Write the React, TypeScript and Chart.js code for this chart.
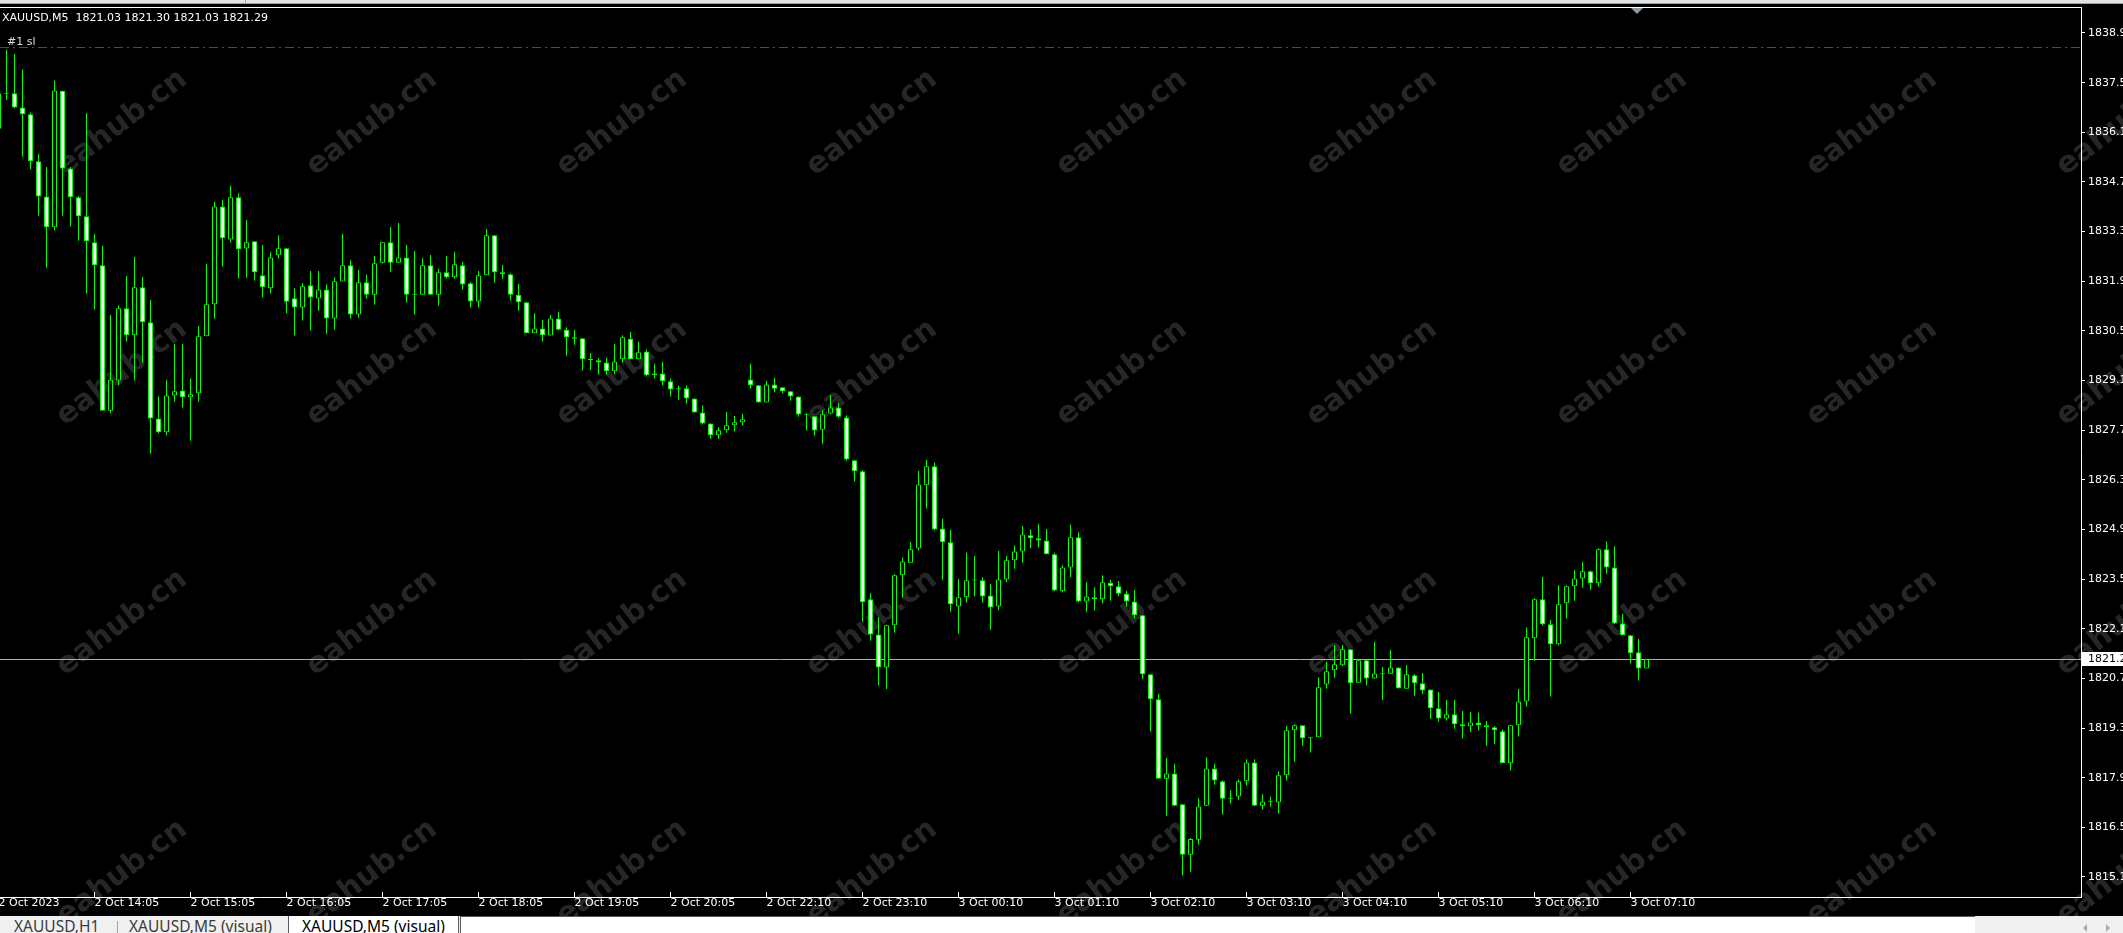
import React, { useEffect, useRef } from 'react';
import { Chart, registerables } from 'chart.js';

Chart.register(...registerables);

const W = 2123;
const H = 933;

const symbol = 'XAUUSD,M5';

const opens = [
  1836.25, 1837.25, 1837.25, 1836.85, 1836.66, 1835.33, 1834.34, 1833.47, 1837.32, 1835.13,
  1834.32, 1833.78, 1833.05, 1832.40, 1828.30, 1829.15, 1831.19, 1830.43, 1831.78, 1830.79,
  1828.08, 1827.69, 1828.73, 1828.87, 1828.68, 1828.79, 1830.40, 1831.30, 1834.06, 1833.13,
  1834.32, 1832.87, 1833.08, 1832.12, 1831.75, 1832.68, 1832.88, 1831.47, 1831.21, 1831.84,
  1831.46, 1831.72, 1830.90, 1831.94, 1832.40, 1831.01, 1831.92, 1831.57, 1832.47, 1833.05,
  1832.47, 1832.62, 1831.57, 1831.57, 1832.40, 1831.57, 1832.20, 1832.06, 1832.40, 1831.89,
  1831.38, 1832.12, 1833.25, 1832.20, 1832.15, 1831.57, 1831.36, 1830.48, 1830.62, 1830.42,
  1830.90, 1830.58, 1830.37, 1830.34, 1829.75, 1829.72, 1829.66, 1829.41, 1829.75, 1830.33,
  1829.75, 1829.97, 1829.30, 1829.35, 1829.13, 1828.90, 1828.93, 1828.64, 1828.25, 1827.94,
  1827.61, 1827.75, 1827.89, 1827.97, 1829.18, 1829.02, 1828.53, 1829.04, 1828.96, 1828.85,
  1828.70, 1828.19, 1828.14, 1827.76, 1828.22, 1828.39, 1828.11, 1826.90, 1826.59, 1822.98,
  1821.99, 1821.06, 1822.25, 1823.66, 1824.01, 1824.41, 1826.20, 1826.73, 1824.98, 1824.59,
  1822.78, 1823.04, 1823.52, 1823.52, 1823.09, 1822.78, 1823.54, 1824.08, 1824.33, 1824.79,
  1824.70, 1824.64, 1824.25, 1823.21, 1823.88, 1824.73, 1822.92, 1823.04, 1822.98, 1823.45,
  1823.35, 1823.14, 1822.92, 1822.53, 1820.87, 1820.16, 1817.92, 1818.07, 1817.20, 1815.78,
  1816.20, 1817.16, 1818.21, 1817.85, 1817.36, 1817.42, 1817.85, 1818.38, 1817.16, 1817.28,
  1817.25, 1818.02, 1819.29, 1819.43, 1819.07, 1819.09, 1820.58, 1820.98, 1821.12, 1821.57,
  1820.63, 1821.26, 1820.75, 1820.87, 1820.88, 1821.06, 1820.46, 1820.84, 1820.61, 1820.44,
  1819.91, 1819.62, 1819.74, 1819.46, 1819.40, 1819.51, 1819.43, 1819.37, 1819.26, 1818.36,
  1819.43, 1820.10, 1821.88, 1822.98, 1822.28, 1821.71, 1822.87, 1823.35, 1823.57, 1823.77,
  1823.43, 1824.39, 1823.88, 1822.30, 1821.97, 1821.49, 1821.03,
];

const highs = [
  1837.30, 1838.47, 1838.36, 1837.93, 1836.71, 1835.54, 1835.17, 1837.60, 1837.32, 1835.17,
  1834.35, 1836.69, 1833.28, 1832.94, 1831.00, 1831.27, 1832.10, 1832.63, 1832.07, 1831.42,
  1828.70, 1829.17, 1830.18, 1830.18, 1829.21, 1830.69, 1832.44, 1834.19, 1834.24, 1834.64,
  1834.43, 1833.68, 1833.08, 1832.97, 1832.77, 1833.25, 1832.88, 1831.75, 1831.89, 1832.24,
  1832.24, 1831.86, 1832.06, 1833.28, 1832.54, 1832.27, 1832.13, 1832.66, 1833.05, 1833.48,
  1833.59, 1832.97, 1832.80, 1832.60, 1832.69, 1832.30, 1832.66, 1832.78, 1832.49, 1831.93,
  1832.24, 1833.42, 1833.25, 1832.41, 1832.17, 1831.87, 1831.36, 1831.05, 1830.86, 1831.00,
  1831.08, 1830.65, 1830.58, 1830.34, 1829.92, 1829.78, 1829.79, 1830.18, 1830.43, 1830.52,
  1830.24, 1830.03, 1829.62, 1829.67, 1829.21, 1829.00, 1829.02, 1828.64, 1828.45, 1827.94,
  1827.83, 1828.26, 1828.15, 1828.21, 1829.62, 1829.02, 1829.14, 1829.22, 1828.96, 1828.85,
  1828.70, 1828.23, 1828.15, 1828.32, 1828.74, 1828.51, 1828.17, 1826.90, 1826.63, 1823.15,
  1822.48, 1822.26, 1823.69, 1824.16, 1824.60, 1826.60, 1826.91, 1826.84, 1825.25, 1824.94,
  1823.55, 1824.29, 1824.20, 1823.60, 1823.41, 1824.34, 1824.20, 1824.50, 1825.05, 1824.95,
  1825.10, 1824.96, 1824.29, 1823.94, 1825.08, 1824.87, 1823.46, 1823.32, 1823.66, 1823.53,
  1823.50, 1823.22, 1823.24, 1822.53, 1820.87, 1820.31, 1818.51, 1818.34, 1817.20, 1816.26,
  1817.37, 1818.53, 1818.34, 1817.87, 1817.60, 1817.90, 1818.47, 1818.47, 1817.48, 1817.41,
  1818.13, 1819.41, 1819.46, 1819.43, 1819.09, 1820.78, 1821.22, 1821.69, 1821.69, 1821.57,
  1821.26, 1821.26, 1821.78, 1821.07, 1821.55, 1821.06, 1821.13, 1820.87, 1820.90, 1820.44,
  1820.37, 1820.14, 1820.14, 1819.83, 1819.80, 1819.78, 1819.55, 1819.40, 1819.31, 1819.43,
  1820.45, 1822.19, 1823.01, 1823.61, 1822.40, 1823.38, 1823.37, 1823.81, 1824.03, 1823.79,
  1824.42, 1824.62, 1824.48, 1822.57, 1821.97, 1821.86, 1821.30,
];

const lows = [
  1836.21, 1837.06, 1836.83, 1835.46, 1835.11, 1833.80, 1832.33, 1833.38, 1833.80, 1833.49,
  1833.09, 1831.61, 1831.16, 1828.30, 1828.23, 1829.02, 1830.25, 1829.15, 1829.65, 1827.10,
  1827.66, 1827.61, 1828.55, 1828.39, 1827.45, 1828.55, 1830.40, 1830.90, 1832.36, 1833.04,
  1832.03, 1832.05, 1831.97, 1831.50, 1831.61, 1832.60, 1831.05, 1830.43, 1830.84, 1830.56,
  1831.12, 1830.47, 1830.58, 1831.94, 1830.90, 1830.92, 1831.46, 1831.29, 1832.45, 1832.22,
  1832.47, 1831.35, 1831.01, 1831.57, 1831.57, 1831.26, 1832.02, 1832.02, 1831.72, 1831.21,
  1831.21, 1832.12, 1831.91, 1832.02, 1831.40, 1831.12, 1830.48, 1830.48, 1830.25, 1830.42,
  1830.56, 1829.85, 1830.16, 1829.43, 1829.45, 1829.32, 1829.31, 1829.33, 1829.65, 1829.75,
  1829.75, 1829.26, 1829.20, 1829.02, 1828.70, 1828.61, 1828.50, 1828.25, 1827.91, 1827.51,
  1827.51, 1827.68, 1827.71, 1827.88, 1828.92, 1828.53, 1828.53, 1828.81, 1828.79, 1828.58,
  1828.13, 1827.74, 1827.60, 1827.37, 1828.20, 1828.10, 1826.89, 1826.30, 1822.35, 1821.81,
  1820.56, 1820.45, 1822.04, 1823.03, 1824.01, 1824.36, 1825.54, 1824.92, 1823.53, 1822.63,
  1822.01, 1822.89, 1823.07, 1822.89, 1822.12, 1822.67, 1823.47, 1823.84, 1824.01, 1824.43,
  1824.44, 1824.25, 1823.21, 1823.17, 1823.61, 1822.89, 1822.63, 1822.66, 1822.87, 1822.94,
  1823.07, 1822.77, 1822.44, 1820.74, 1819.25, 1817.92, 1816.88, 1817.16, 1815.19, 1815.30,
  1816.06, 1817.16, 1817.75, 1816.91, 1817.22, 1817.33, 1817.73, 1817.16, 1817.05, 1817.13,
  1816.94, 1817.87, 1818.40, 1818.85, 1818.66, 1819.09, 1820.46, 1820.77, 1821.09, 1819.76,
  1820.63, 1820.55, 1820.74, 1820.14, 1820.88, 1820.46, 1820.46, 1820.26, 1820.32, 1819.61,
  1819.53, 1819.56, 1819.33, 1819.05, 1819.24, 1819.28, 1818.85, 1818.89, 1818.36, 1818.15,
  1819.11, 1819.95, 1821.25, 1822.24, 1820.24, 1821.68, 1822.44, 1822.94, 1823.31, 1823.25,
  1823.34, 1823.70, 1822.28, 1821.97, 1821.17, 1820.69, 1821.03,
];

const closes = [
  1837.25, 1837.24, 1836.85, 1836.66, 1835.33, 1834.34, 1833.47, 1837.33, 1835.13, 1834.32,
  1833.78, 1833.08, 1832.40, 1828.30, 1829.17, 1831.19, 1830.43, 1831.78, 1830.79, 1828.08,
  1827.69, 1828.73, 1828.85, 1828.68, 1828.76, 1830.40, 1831.30, 1834.06, 1833.16, 1834.32,
  1832.85, 1833.05, 1832.20, 1831.78, 1832.62, 1832.88, 1831.37, 1831.21, 1831.81, 1831.49,
  1831.72, 1830.90, 1831.95, 1832.40, 1831.01, 1831.92, 1831.57, 1832.46, 1833.05, 1832.47,
  1832.62, 1831.57, 1831.57, 1832.40, 1831.57, 1832.20, 1832.06, 1832.43, 1831.86, 1831.38,
  1832.12, 1833.25, 1832.20, 1832.15, 1831.57, 1831.36, 1830.48, 1830.62, 1830.43, 1830.90,
  1830.58, 1830.37, 1830.33, 1829.75, 1829.73, 1829.66, 1829.41, 1829.69, 1830.37, 1829.75,
  1829.95, 1829.30, 1829.35, 1829.13, 1828.90, 1828.93, 1828.64, 1828.25, 1827.94, 1827.61,
  1827.75, 1827.89, 1827.97, 1828.06, 1829.02, 1828.53, 1829.04, 1828.92, 1828.85, 1828.70,
  1828.19, 1828.17, 1827.74, 1828.20, 1828.39, 1828.13, 1826.92, 1826.59, 1822.90, 1821.99,
  1821.06, 1822.25, 1823.66, 1824.05, 1824.39, 1826.22, 1826.73, 1824.95, 1824.59, 1822.84,
  1823.04, 1823.52, 1823.51, 1823.06, 1822.75, 1823.54, 1824.08, 1824.33, 1824.81, 1824.70,
  1824.64, 1824.25, 1823.23, 1823.88, 1824.73, 1822.92, 1823.06, 1822.98, 1823.46, 1823.35,
  1823.14, 1822.92, 1822.53, 1820.87, 1820.16, 1817.92, 1818.07, 1817.16, 1815.78, 1816.22,
  1817.14, 1818.21, 1817.87, 1817.36, 1817.36, 1817.85, 1818.38, 1817.16, 1817.28, 1817.27,
  1818.02, 1819.29, 1819.43, 1819.06, 1819.06, 1820.50, 1820.95, 1821.15, 1821.57, 1820.61,
  1821.26, 1820.75, 1820.89, 1820.88, 1821.06, 1820.47, 1820.87, 1820.61, 1820.41, 1819.91,
  1819.62, 1819.74, 1819.46, 1819.40, 1819.51, 1819.43, 1819.37, 1819.29, 1818.36, 1819.43,
  1820.10, 1821.91, 1822.98, 1822.28, 1821.71, 1822.84, 1823.35, 1823.57, 1823.77, 1823.43,
  1824.39, 1823.88, 1822.30, 1821.97, 1821.46, 1821.03, 1821.29,
];

const timeTickIndex = [0, 12, 24, 36, 48, 60, 72, 84, 96, 108, 120, 132, 144, 156, 168, 180, 192, 204];
const timeTickLabels = [
  '2 Oct 2023', '2 Oct 14:05', '2 Oct 15:05', '2 Oct 16:05', '2 Oct 17:05', '2 Oct 18:05',
  '2 Oct 19:05', '2 Oct 20:05', '2 Oct 22:10', '2 Oct 23:10', '3 Oct 00:10', '3 Oct 01:10',
  '3 Oct 02:10', '3 Oct 03:10', '3 Oct 04:10', '3 Oct 05:10', '3 Oct 06:10', '3 Oct 07:10',
];

const priceTicks = [
  1838.95, 1837.55, 1836.15, 1834.75, 1833.35, 1831.95, 1830.55, 1829.15, 1827.75,
  1826.35, 1824.95, 1823.55, 1822.15, 1820.75, 1819.35, 1817.95, 1816.55, 1815.15,
];

const stopLossPrice = 1838.55;
const stopLossLabel = '#1 sl';
const tabLabels = ['XAUUSD,H1', 'XAUUSD,M5 (visual)', 'XAUUSD,M5 (visual)'];
const watermarkText = 'eahub.cn';

const FONT = '"DejaVu Sans", sans-serif';

export default function App() {
  const ref = useRef<HTMLCanvasElement | null>(null);

  useEffect(() => {
    const canvas = ref.current;
    if (!canvas) return;
    const last = closes.length - 1;

    const wickData = lows.map((l, i) => ({ x: i, y: [l, highs[i]] }));
    const bodyData = opens.map((o, i) => ({ x: i, y: [o, closes[i]] }));
    const bodyFill = opens.map((o, i) => (closes[i] >= o ? '#000000' : '#ffffff'));

    const chromePlugin = {
      id: 'mt4chrome',
      beforeDraw(chart: any) {
        const ctx = chart.ctx as CanvasRenderingContext2D;
        ctx.save();
        ctx.fillStyle = '#000000';
        ctx.fillRect(0, 0, W, H);
        ctx.fillStyle = '#e4e4e4';
        ctx.fillRect(0, 0, W, 3);
        ctx.fillStyle = '#a0a0a0';
        ctx.fillRect(0, 3, W, 1);
        ctx.fillRect(245, 0, 1, 3);
        // watermark
        ctx.font = 'bold 30px "DejaVu Sans"';
        ctx.fillStyle = '#262626';
        ctx.textAlign = 'center';
        ctx.textBaseline = 'middle';
        for (let r = 0; r < 4; r++) {
          for (let c = 0; c < 9; c++) {
            ctx.save();
            ctx.translate(122 + 250 * c, 123 + 250 * r);
            ctx.rotate(-0.65);
            ctx.fillText(watermarkText, 0, 0);
            ctx.restore();
          }
        }
        ctx.restore();
      },
      beforeDatasetsDraw(chart: any) {
        const ctx = chart.ctx as CanvasRenderingContext2D;
        const area = chart.chartArea;
        const xs = chart.scales.x;
        const ys = chart.scales.y;
        ctx.save();
        // frame top
        ctx.fillStyle = '#ffffff';
        ctx.fillRect(0, Math.round(area.top), Math.round(area.right) + 1, 1);
        // bid line
        const yb = Math.round(ys.getPixelForValue(closes[last])) + 0.5;
        ctx.strokeStyle = '#aeb0b4';
        ctx.lineWidth = 1;
        ctx.beginPath();
        ctx.moveTo(area.left, yb);
        ctx.lineTo(area.right, yb);
        ctx.stroke();
        // stop loss line
        const ysl = Math.round(ys.getPixelForValue(stopLossPrice)) + 0.5;
        ctx.strokeStyle = '#ff0000';
        ctx.setLineDash([9, 4, 2, 4]);
        ctx.beginPath();
        ctx.moveTo(area.left, ysl);
        ctx.lineTo(area.right, ysl);
        ctx.stroke();
        ctx.setLineDash([]);
        // texts
        ctx.font = '11px ' + FONT;
        ctx.textAlign = 'left';
        ctx.textBaseline = 'alphabetic';
        ctx.fillStyle = '#dcdcdc';
        ctx.fillText(stopLossLabel, 7, ysl - 3);
        ctx.fillStyle = '#ffffff';
        const hdr = `${symbol}  ${opens[last].toFixed(2)} ${highs[last].toFixed(2)} ${lows[last].toFixed(2)} ${closes[last].toFixed(2)}`;
        ctx.fillText(hdr, 2, 21);
        // time tick marks inside plot
        ctx.fillStyle = '#ffffff';
        timeTickIndex.forEach((v) => {
          const px = Math.floor(xs.getPixelForValue(v));
          ctx.fillRect(px, area.bottom - 5, 1, 5);
        });
        ctx.restore();
      },
      afterDraw(chart: any) {
        const ctx = chart.ctx as CanvasRenderingContext2D;
        const area = chart.chartArea;
        const ys = chart.scales.y;
        ctx.save();
        const yb = Math.round(ys.getPixelForValue(closes[last]));
        ctx.fillStyle = '#ffffff';
        ctx.fillRect(Math.round(area.right) + 1, yb - 7, W - area.right, 14);
        ctx.fillStyle = '#000000';
        ctx.font = '11px ' + FONT;
        ctx.textAlign = 'left';
        ctx.textBaseline = 'middle';
        ctx.fillText(closes[last].toFixed(2), area.right + 7, yb + 0.5);
        // chart shift triangle
        ctx.fillStyle = '#8c98a4';
        ctx.beginPath();
        ctx.moveTo(1631, 8);
        ctx.lineTo(1643, 8);
        ctx.lineTo(1637, 14);
        ctx.closePath();
        ctx.fill();
        ctx.restore();
      },
    };

    const chart = new Chart(canvas, {
      type: 'bar',
      data: {
        datasets: [
          {
            label: 'body',
            data: bodyData as any,
            backgroundColor: bodyFill,
            borderColor: '#00ff00',
            borderWidth: 1,
            borderSkipped: false,
            barThickness: 5,
            minBarLength: 1,
            grouped: false,
            inflateAmount: 0,
            order: 0,
          } as any,
          {
            label: 'wick',
            data: wickData as any,
            backgroundColor: '#00ff00',
            borderWidth: 0,
            barThickness: 1,
            grouped: false,
            inflateAmount: 0,
            order: 1,
          } as any,
        ],
      },
      options: {
        animation: false,
        responsive: false,
        maintainAspectRatio: false,
        events: [],
        layout: { padding: { top: 7, left: 0, right: 0, bottom: 0 } },
        plugins: {
          legend: { display: false },
          tooltip: { enabled: false },
          title: { display: false },
        },
        scales: {
          x: {
            type: 'linear',
            position: 'bottom',
            min: 0.1875,
            max: 260.3125,
            offset: false,
            grid: { display: false, drawTicks: false, offset: false },
            border: { display: true, color: '#ffffff', width: 1 },
            ticks: {
              autoSkip: false,
              maxRotation: 0,
              minRotation: 0,
              align: 'start',
              padding: 0,
              color: '#ffffff',
              font: { family: FONT, size: 11 },
              callback: (_v: any, idx: number) => timeTickLabels[idx] ?? '',
            },
            afterBuildTicks: (s: any) => {
              s.ticks = timeTickIndex.map((v) => ({ value: v }));
            },
            afterFit: (s: any) => {
              s.height = 36;
              s.paddingLeft = 0;
              s.paddingRight = 0;
            },
          } as any,
          y: {
            type: 'linear',
            position: 'right',
            min: 1814.586,
            max: 1839.683,
            beginAtZero: false,
            grid: { display: true, drawOnChartArea: false, drawTicks: true, tickLength: 4, color: '#ffffff' },
            border: { display: true, color: '#ffffff', width: 1 },
            ticks: {
              autoSkip: false,
              padding: 3,
              color: '#ffffff',
              font: { family: FONT, size: 11 },
              callback: (v: any) => Number(v).toFixed(2),
            },
            afterBuildTicks: (s: any) => {
              s.ticks = priceTicks.map((v) => ({ value: v }));
            },
            afterFit: (s: any) => {
              s.width = 42;
              s.paddingTop = 0;
              s.paddingBottom = 0;
            },
          } as any,
        },
      },
      plugins: [chromePlugin],
    });

    return () => chart.destroy();
  }, []);

  const tabText: React.CSSProperties = {
    position: 'absolute',
    top: 3,
    whiteSpace: 'nowrap',
  };

  return (
    <div style={{ position: 'fixed', left: 0, top: 0, width: W, height: H, overflow: 'hidden', background: '#000' }}>
      <canvas ref={ref} width={W} height={H} style={{ display: 'block', width: W, height: H }} />
      <div
        style={{
          position: 'absolute',
          left: 0,
          top: 916,
          width: W,
          height: 17,
          background: '#f0f0f0',
          overflow: 'hidden',
          fontFamily: '"Noto Sans", sans-serif',
          fontSize: 15.5,
          lineHeight: '15.5px',
          color: '#000',
        }}
      >
        <span style={{ ...tabText, left: 14, color: '#3c3c3c' }}>{tabLabels[0]}</span>
        <div style={{ position: 'absolute', left: 117, top: 5, width: 1, height: 12, background: '#a0a0a0' }} />
        <span style={{ ...tabText, left: 129, color: '#3c3c3c' }}>{tabLabels[1]}</span>
        <div
          style={{
            position: 'absolute',
            left: 288,
            top: 0,
            width: 171,
            height: 17,
            background: '#ffffff',
            borderLeft: '1px solid #5a5a5a',
            borderRight: '1px solid #5a5a5a',
            boxSizing: 'border-box',
          }}
        />
        <span style={{ ...tabText, left: 302, color: '#000' }}>{tabLabels[2]}</span>
        <div
          style={{
            position: 'absolute',
            left: 460,
            top: 0,
            width: 1515,
            height: 17,
            background: '#ffffff',
            borderLeft: '1px solid #5a5a5a',
            borderTop: '1px solid #5a5a5a',
            boxSizing: 'border-box',
          }}
        />
        <div
          style={{
            position: 'absolute',
            left: 2083,
            top: 8,
            width: 0,
            height: 0,
            borderTop: '4px solid transparent',
            borderBottom: '4px solid transparent',
            borderRight: '4px solid #a8a8a8',
          }}
        />
        <div
          style={{
            position: 'absolute',
            left: 2106,
            top: 8,
            width: 0,
            height: 0,
            borderTop: '4px solid transparent',
            borderBottom: '4px solid transparent',
            borderLeft: '4px solid #a8a8a8',
          }}
        />
      </div>
    </div>
  );
}
